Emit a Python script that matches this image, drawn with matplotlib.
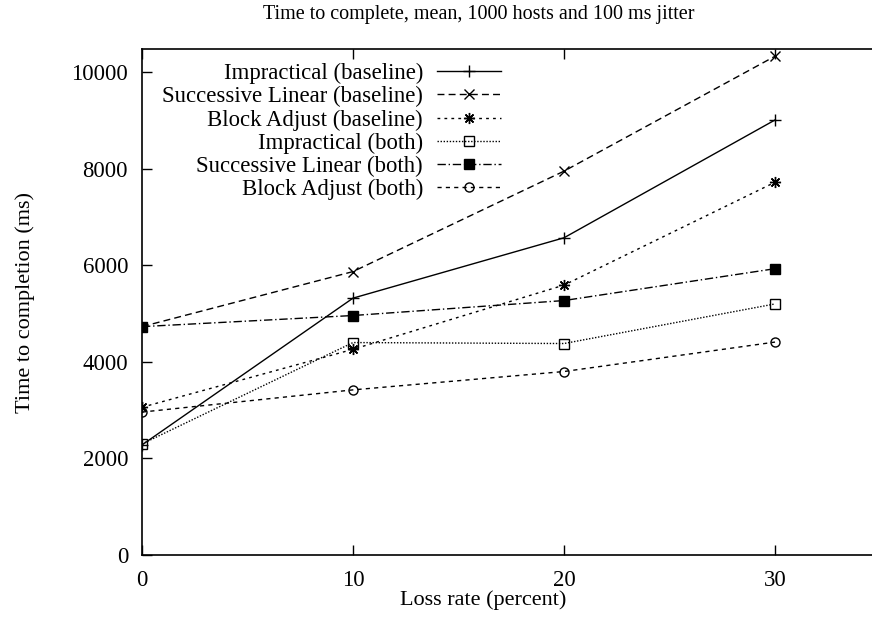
import numpy as np
import matplotlib
matplotlib.use("Agg")
import matplotlib.pyplot as plt

plt.rcParams['font.family'] = ['Liberation Serif', 'DejaVu Serif']

loss = [0, 10, 20, 30]

impractical_base = [2280, 5320, 6570, 9010]
succ_linear_base = [4730, 5870, 7950, 10330]
block_adjust_base = [3060, 4260, 5590, 7720]
impractical_both = [2300, 4400, 4380, 5200]
succ_linear_both = [4730, 4960, 5270, 5930]
block_adjust_both = [2960, 3420, 3800, 4410]

labels = ["Impractical (baseline)", "Successive Linear (baseline)",
          "Block Adjust (baseline)", "Impractical (both)",
          "Successive Linear (both)", "Block Adjust (both)"]

fig = plt.figure(figsize=(8.72, 6.3), dpi=100)
ax = fig.add_axes([142 / 872, 75 / 630, 738.5 / 872, 506 / 630])

lw = 1.0
ax.plot(loss, impractical_base, color="black", lw=lw, ls="-",
        marker="+", ms=8, mew=1, label=labels[0])
ax.plot(loss, succ_linear_base, color="black", lw=lw, ls=(0, (5, 3)),
        marker="x", ms=7, mew=1, label=labels[1])
ax.plot(loss, block_adjust_base, color="black", lw=lw, ls=(0, (2, 3)),
        marker=(8, 2, 0), ms=8, mew=1, label=labels[2])
ax.plot(loss, impractical_both, color="black", lw=lw, ls=(0, (1, 1.2)),
        marker="s", ms=6.5, mew=1, mfc="none", label=labels[3])
ax.plot(loss, succ_linear_both, color="black", lw=lw, ls=(0, (6, 2, 1, 2)),
        marker="s", ms=6.5, mew=1, mfc="black", label=labels[4])
ax.plot(loss, block_adjust_both, color="black", lw=lw, ls=(0, (3, 3)),
        marker="o", ms=6.5, mew=1, mfc="none", label=labels[5])

ax.set_xlim(0, 35)
ax.set_ylim(0, 10480)
ax.set_xticks([0, 10, 20, 30])
ax.set_yticks(np.arange(0, 10001, 2000))
ax.tick_params(direction="in", length=7, width=1, labelsize=16.4,
               top=True, right=False)
ax.tick_params(axis="y", pad=10)
ax.tick_params(axis="x", pad=11)
for s in ax.spines.values():
    s.set_linewidth(1.2)

leg = ax.legend(loc="upper left", bbox_to_anchor=(20 / 738.5, 1 - 14 / 506),
                markerfirst=False, frameon=False, fontsize=16.4,
                handlelength=2.85, handletextpad=0.6, labelspacing=0.09,
                borderpad=0, borderaxespad=0)

fig.text(479 / 872, 1 - 15 / 630,
         "Time to complete, mean, 1000 hosts and 100 ms jitter",
         ha="center", va="center", fontsize=14.5)
fig.text(483 / 872, 1 - 600 / 630, "Loss rate (percent)",
         ha="center", va="center", fontsize=16)
fig.text(25 / 872, 1 - 302 / 630, "Time to completion (ms)",
         ha="center", va="center", rotation=90, fontsize=16)

fig.savefig("out.png", dpi=100)
